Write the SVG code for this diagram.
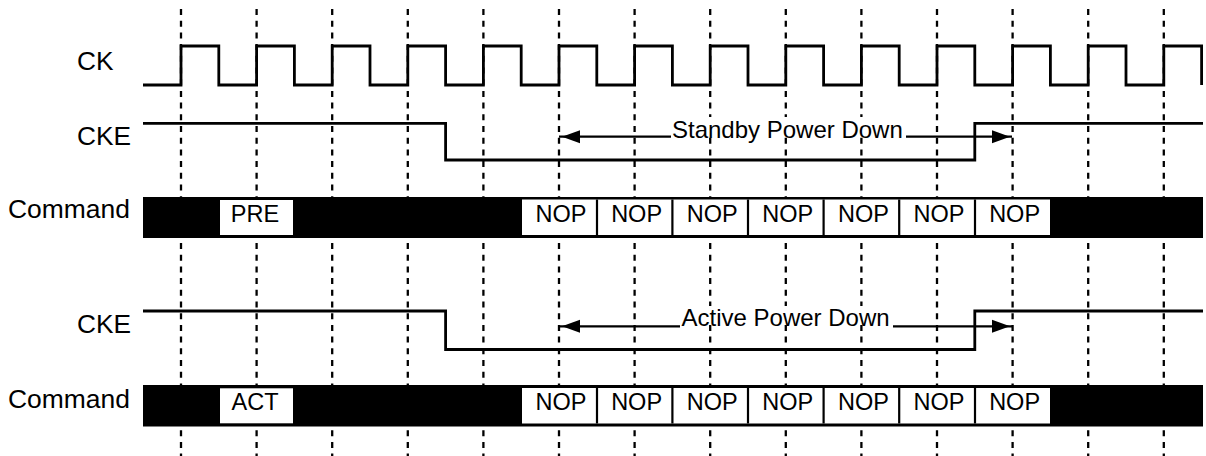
<svg xmlns="http://www.w3.org/2000/svg" width="1206" height="456" viewBox="0 0 1206 456">
<style>
.grid{stroke:#000;stroke-width:2.3;stroke-dasharray:6 5.7;fill:none}
.wave{stroke:#000;stroke-width:2.8;fill:none;stroke-linejoin:miter}
.arr{stroke:#000;stroke-width:2.2;fill:none}
.head{fill:#000}
.lbl{font-family:"Liberation Sans",Arial,sans-serif;font-size:25px;fill:#000}
.cmd{font-family:"Liberation Sans",Arial,sans-serif;font-size:23.5px;fill:#000;text-anchor:middle}
.note{font-family:"Liberation Sans",Arial,sans-serif;font-size:24px;fill:#000}
.bar{fill:#000}
.box{fill:#fff}
.div{stroke:#000;stroke-width:2.2}
</style>
<rect width="1206" height="456" fill="#fff"/>
<g id="gridlines">
<path class="grid" d="M181,9V456M256.6,9V456M332.2,9V456M407.8,9V456M483.4,9V456M559,9V456M634.6,9V456M710.2,9V456M785.8,9V456M861.4,9V456M937,9V456M1012.6,9V456M1088.2,9V456M1163.8,9V456"/>
</g>
<g id="labels">
<text class="lbl" x="77" y="70" textLength="36.5" lengthAdjust="spacingAndGlyphs">CK</text>
<text class="lbl" x="77" y="145" textLength="54" lengthAdjust="spacingAndGlyphs">CKE</text>
<text class="lbl" x="8" y="218" textLength="122" lengthAdjust="spacingAndGlyphs">Command</text>
<text class="lbl" x="77" y="333" textLength="54" lengthAdjust="spacingAndGlyphs">CKE</text>
<text class="lbl" x="8" y="408" textLength="122" lengthAdjust="spacingAndGlyphs">Command</text>
</g>
<g id="ck">
<path class="wave" d="M143,85H181V46H218.8V85H256.6V46H294.4V85H332.2V46H370V85H407.8V46H445.6V85H483.4V46H521.2V85H559V46H596.8V85H634.6V46H672.4V85H710.2V46H748V85H785.8V46H823.6V85H861.4V46H899.2V85H937V46H974.8V85H1012.6V46H1050.4V85H1088.2V46H1126V85H1163.8V46H1201.6V85"/>
</g>
<g id="cke1">
<path class="wave" d="M143,123.3H445.6V160H974.8V123.3H1203"/>
</g>
<g id="cke2">
<path class="wave" d="M143,311H445.6V349.5H974.8V311H1203"/>
</g>
<g id="connectors">
<rect x="670" y="117" width="238" height="18" fill="#fff"/>
<rect x="679" y="306" width="215" height="18" fill="#fff"/>
<line class="arr" x1="671" y1="136.7" x2="559" y2="136.7"/>
<path class="head" d="M562,136.7L580,130.2V143.2Z"/>
<line class="arr" x1="906" y1="136.7" x2="1012" y2="136.7"/>
<path class="head" d="M1010,136.7L992,130.2V143.2Z"/>
<line class="arr" x1="680" y1="326.3" x2="559" y2="326.3"/>
<path class="head" d="M562,326.3L580,319.8V332.8Z"/>
<line class="arr" x1="893" y1="326.3" x2="1012" y2="326.3"/>
<path class="head" d="M1010,326.3L992,319.8V332.8Z"/>
</g>
<g id="standby-label">
<text class="note" x="672" y="138">Standby Power Down</text>
</g>
<g id="active-label">
<text class="note" x="681.5" y="326">Active Power Down</text>
</g>
<g id="command1">
<rect class="bar" x="143" y="197" width="1060" height="41"/>
<rect class="box" x="220" y="200" width="73" height="35"/>
<rect class="box" x="522" y="199.5" width="528" height="35.5"/>
<path class="div" d="M597,199.5V235M672.4,199.5V235M748,199.5V235M823.6,199.5V235M899.2,199.5V235M975,199.5V235"/>
<text class="cmd" x="255" y="221.5">PRE</text>
<text class="cmd" x="561" y="221.5">NOP</text>
<text class="cmd" x="636.6" y="221.5">NOP</text>
<text class="cmd" x="712.2" y="221.5">NOP</text>
<text class="cmd" x="787.8" y="221.5">NOP</text>
<text class="cmd" x="863.4" y="221.5">NOP</text>
<text class="cmd" x="939" y="221.5">NOP</text>
<text class="cmd" x="1014.6" y="221.5">NOP</text>
</g>
<g id="command2">
<rect class="bar" x="143" y="385" width="1060" height="41.5"/>
<rect class="box" x="220" y="388.3" width="73" height="35"/>
<rect class="box" x="522" y="388" width="528" height="35.5"/>
<path class="div" d="M597,388V423.5M672.4,388V423.5M748,388V423.5M823.6,388V423.5M899.2,388V423.5M975,388V423.5"/>
<text class="cmd" x="255" y="410">ACT</text>
<text class="cmd" x="561" y="409.5">NOP</text>
<text class="cmd" x="636.6" y="409.5">NOP</text>
<text class="cmd" x="712.2" y="409.5">NOP</text>
<text class="cmd" x="787.8" y="409.5">NOP</text>
<text class="cmd" x="863.4" y="409.5">NOP</text>
<text class="cmd" x="939" y="409.5">NOP</text>
<text class="cmd" x="1014.6" y="409.5">NOP</text>
</g>
</svg>
